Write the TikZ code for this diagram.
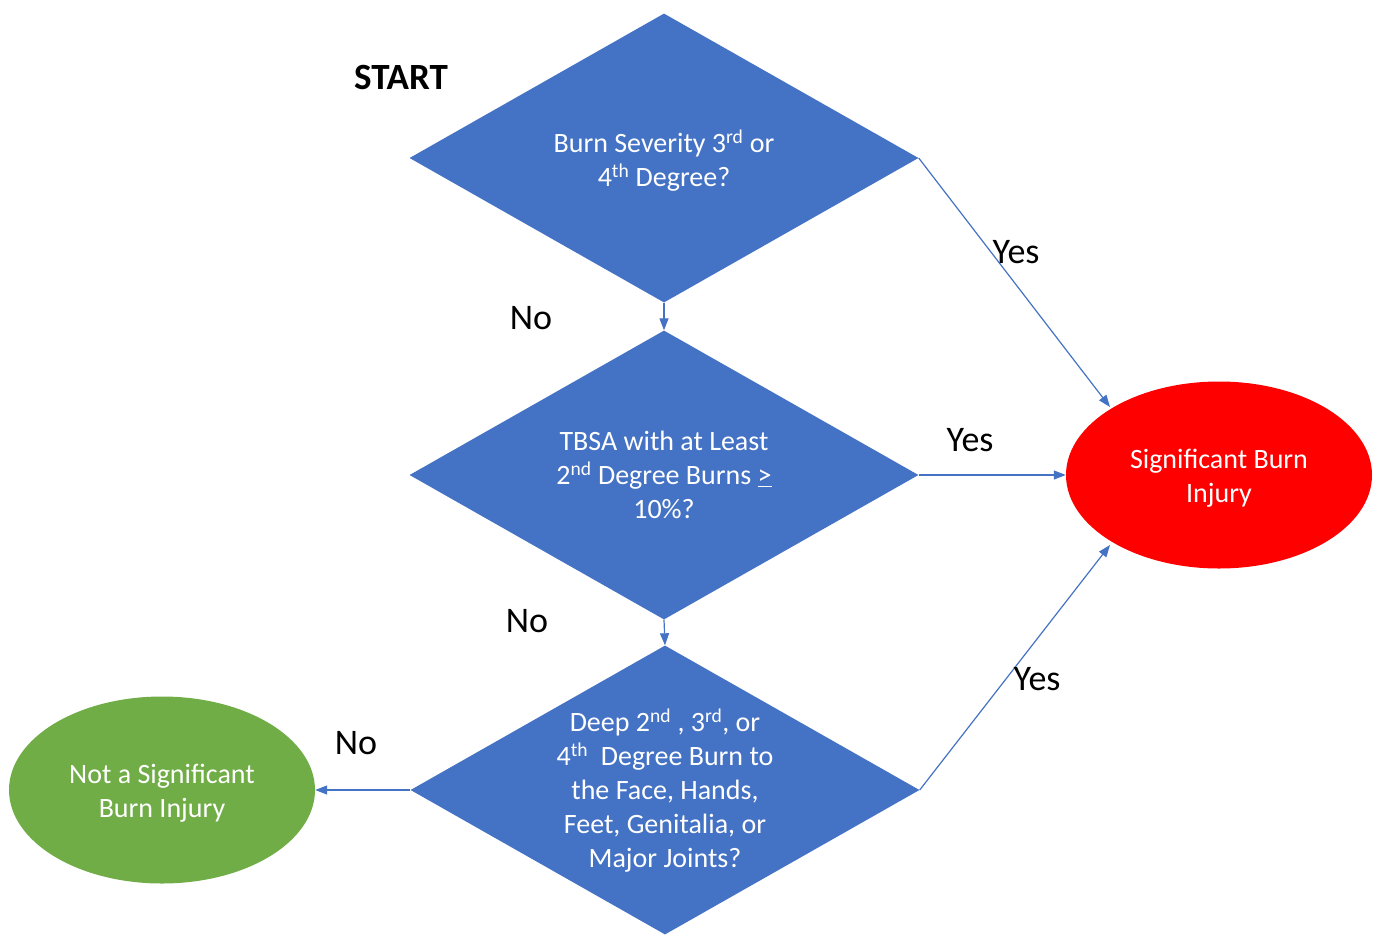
\documentclass[tikz,border=0pt]{standalone}
\usepackage{fontspec}
\setmainfont{Carlito}
\usetikzlibrary{shapes.geometric,arrows.meta}
\definecolor{dblue}{HTML}{4472C4}
\definecolor{dred}{HTML}{FF0000}
\definecolor{dgreen}{HTML}{70AD47}
\begin{document}
\begin{tikzpicture}[x=1pt,y=-1pt,
  dia/.style={shape=diamond,fill=dblue,draw=none,inner sep=0pt,minimum width=509pt,minimum height=289pt},
  txt/.style={text=white,align=center,font=\fontsize{28}{34}\selectfont},
  oval/.style={shape=ellipse,draw=none,inner sep=0pt,minimum width=306pt,minimum height=187pt},
  lbl/.style={font=\fontsize{36}{40}\selectfont,text=black},
  conn/.style={draw=dblue,line width=1.2pt,-{Triangle[length=12pt,width=9pt]}}]
\useasboundingbox (0,0) rectangle (1379,935);
\node[dia] (d1) at (664,158) {};
\node[dia] (d2) at (664,475) {};
\node[dia] (d3) at (665,790) {};
\node[oval,fill=dred] (sig) at (1219,475) {};
\node[oval,fill=dgreen] (not) at (162,790) {};
\node[txt] (t1) at (664,161) {Burn Severity 3\textsuperscript{rd} or\\4\textsuperscript{th} Degree?};
\node[txt] (t2) at (664,475) {TBSA with at Least\\2\textsuperscript{nd} Degree Burns \underline{>}\\10\%?};
\node[txt] (t3) at (665,791) {Deep 2\textsuperscript{nd} , 3\textsuperscript{rd}, or\\4\textsuperscript{th}\ \ Degree Burn to\\the Face, Hands,\\Feet, Genitalia, or\\Major Joints?};
\node[txt] (ts) at (1219,478) {Significant Burn\\Injury};
\node[txt] (tn) at (162,793) {Not a Significant\\Burn Injury};
\node[font=\bfseries\fontsize{37}{40}\selectfont] (start) at (401,77) {START};
\coordinate (e1) at (1110,407);
\coordinate (e3) at (1110,545);
\draw[conn] (d1.east) -- (e1);
\draw[conn] (d2.east) -- (sig.west);
\draw[conn] (d3.east) -- (e3);
\draw[conn] (d1.south) -- (d2.north);
\draw[conn] (d2.south) -- (d3.north);
\draw[conn] (d3.west) -- (not.east);
\node[lbl] (y1) at (1016,252) {Yes};
\node[lbl] (y2) at (970,440) {Yes};
\node[lbl] (y3) at (1037,679) {Yes};
\node[lbl] (n1) at (531,318) {No};
\node[lbl] (n2) at (527,621) {No};
\node[lbl] (n3) at (356,743) {No};
\end{tikzpicture}
\end{document}
